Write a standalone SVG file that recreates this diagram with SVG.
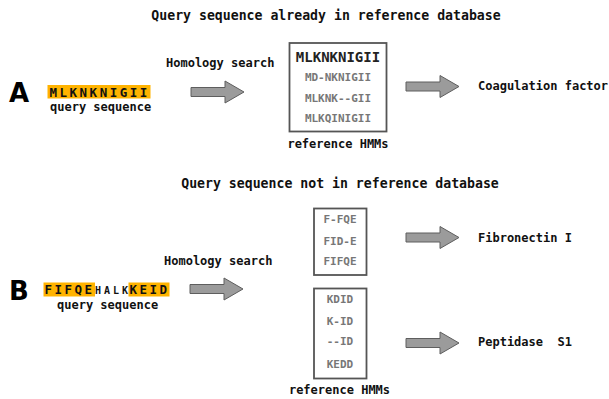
<svg xmlns="http://www.w3.org/2000/svg" width="609" height="399" viewBox="0 0 609 399">
  <style>
    .t { font-family: "DejaVu Sans Mono", "Liberation Mono", monospace; font-weight: bold; fill: #111; }
    .title { font-size: 13.2px; text-anchor: middle; }
    .lbl { font-size: 12px; }
    .big { font-family: "DejaVu Sans", "Liberation Sans", sans-serif; font-weight: bold; font-size: 26px; fill: #000; }
    .seq { font-size: 12.5px; letter-spacing: 2.5px; }
    .small { font-size: 10px; letter-spacing: 3px; }
    .hl { fill: #ffb300; }
    .box { fill: #fff; stroke: #555; stroke-width: 1.8; }
    .hmm { font-size: 11px; fill: #777; text-anchor: middle; }
    .hmmtop { font-size: 14px; fill: #222; text-anchor: middle; }
    .mid { text-anchor: middle; }
    .arrow { fill: #9b9b9b; stroke: #5e5e5e; stroke-width: 1; }
  </style>
  <defs>
    <polygon id="arr" points="0,-4.5 34,-4.5 34,-11 53,0 34,11 34,4.5 0,4.5"/>
  </defs>

  <rect width="609" height="399" fill="#fff"/>

  <text class="t title" x="326" y="20">Query sequence already in reference database</text>
  <text class="t title" x="340" y="188">Query sequence not in reference database</text>

  <!-- Panel A -->
  <g id="labelA"><text class="big" x="9" y="102">A</text></g>
  <g id="queryA">
    <rect class="hl" x="47.5" y="85" width="103" height="13.5"/>
    <text class="t seq" x="49.5" y="96.5">MLKNKNIGII</text>
    <text class="t lbl" x="50" y="110.5">query sequence</text>
  </g>
  <g id="searchA"><text class="t lbl" x="166" y="67">Homology search</text></g>
  <g id="hmmA">
    <rect class="box" x="289.5" y="43" width="97" height="88.5"/>
    <text class="t hmmtop" x="338" y="62">MLKNKNIGII</text>
    <text class="t hmm" x="338" y="81">MD-NKNIGII</text>
    <text class="t hmm" x="338" y="101.5">MLKNK--GII</text>
    <text class="t hmm" x="338" y="121.5">MLKQINIGII</text>
    <text class="t lbl mid" x="338" y="148">reference HMMs</text>
  </g>
  <g id="resultA"><text class="t lbl" x="478" y="89.5">Coagulation factor</text></g>

  <!-- Panel B -->
  <g id="labelB"><text class="big" x="9" y="300">B</text></g>
  <g id="queryB">
    <rect class="hl" x="43.5" y="282.5" width="51.5" height="14"/>
    <rect class="hl" x="128.5" y="282.5" width="41" height="14"/>
    <text class="t seq" y="294"><tspan x="44.5">FIFQE</tspan><tspan class="small" x="95" y="294">HALK</tspan><tspan x="129.5">KEID</tspan></text>
    <text class="t lbl" x="57" y="309">query sequence</text>
  </g>
  <g id="searchB"><text class="t lbl" x="164" y="265">Homology search</text></g>
  <g id="hmmB1">
    <rect class="box" x="314" y="208.5" width="52.5" height="66.5"/>
    <text class="t hmm" x="340" y="223">F-FQE</text>
    <text class="t hmm" x="340" y="245">FID-E</text>
    <text class="t hmm" x="340" y="265">FIFQE</text>
  </g>
  <g id="hmmB2">
    <rect class="box" x="314" y="288.5" width="52.5" height="90"/>
    <text class="t hmm" x="340" y="302.5">KDID</text>
    <text class="t hmm" x="340" y="325">K-ID</text>
    <text class="t hmm" x="340" y="345">--ID</text>
    <text class="t hmm" x="340" y="367.5">KEDD</text>
  </g>
  <g id="refB"><text class="t lbl mid" x="339.5" y="394">reference HMMs</text></g>
  <g id="resultB1"><text class="t lbl" x="478" y="242">Fibronectin I</text></g>
  <g id="resultB2"><text class="t lbl" x="478" y="346" style="white-space:pre" xml:space="preserve">Peptidase  S1</text></g>

  <!-- Connectors -->
  <g id="connectors">
    <use href="#arr" class="arrow" x="191" y="92"/>
    <use href="#arr" class="arrow" x="406" y="86.5"/>
    <use href="#arr" class="arrow" x="190" y="289"/>
    <use href="#arr" class="arrow" x="406" y="237.5"/>
    <use href="#arr" class="arrow" x="406" y="343"/>
  </g>
</svg>
